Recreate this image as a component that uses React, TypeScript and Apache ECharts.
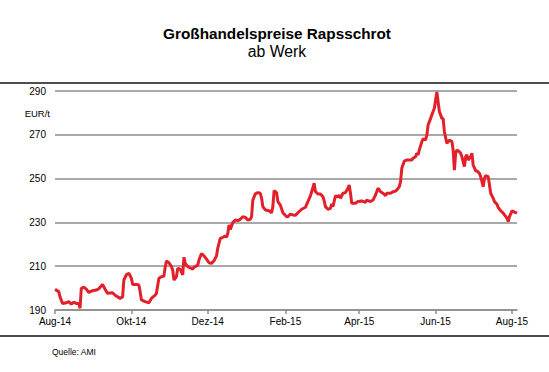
import React, { useEffect, useRef } from "react";
import * as echarts from "echarts";

const dates: string[] = [
  "2014-08-01","2014-08-04","2014-08-05","2014-08-07","2014-08-10","2014-08-12","2014-08-14","2014-08-16","2014-08-18","2014-08-20",
  "2014-08-21","2014-08-22","2014-08-24","2014-08-26","2014-08-28","2014-08-31","2014-09-03","2014-09-05","2014-09-08","2014-09-10",
  "2014-09-12","2014-09-16","2014-09-18","2014-09-22","2014-09-24","2014-09-25","2014-09-27","2014-09-29","2014-10-01","2014-10-02",
  "2014-10-05","2014-10-07","2014-10-08","2014-10-09","2014-10-12","2014-10-15","2014-10-17","2014-10-20","2014-10-21","2014-10-23",
  "2014-10-25","2014-10-27","2014-10-28","2014-10-29","2014-10-31","2014-11-02","2014-11-03","2014-11-04","2014-11-06","2014-11-07",
  "2014-11-09","2014-11-11","2014-11-12","2014-11-13","2014-11-15","2014-11-16","2014-11-19","2014-11-20","2014-11-23","2014-11-24",
  "2014-11-26","2014-11-28","2014-11-30","2014-12-02","2014-12-04","2014-12-06","2014-12-08","2014-12-09","2014-12-11","2014-12-13",
  "2014-12-15","2014-12-16","2014-12-17","2014-12-18","2014-12-19","2014-12-21","2014-12-23","2014-12-25","2014-12-27","2014-12-29",
  "2014-12-31","2015-01-02","2015-01-04","2015-01-05","2015-01-06","2015-01-08","2015-01-10","2015-01-12","2015-01-13","2015-01-14",
  "2015-01-16","2015-01-19","2015-01-21","2015-01-22","2015-01-23","2015-01-25","2015-01-26","2015-01-28","2015-01-30","2015-02-02",
  "2015-02-03","2015-02-05","2015-02-07","2015-02-09","2015-02-11","2015-02-14","2015-02-17","2015-02-19","2015-02-21","2015-02-22",
  "2015-02-24","2015-02-25","2015-02-27","2015-03-01","2015-03-03","2015-03-04","2015-03-05","2015-03-07","2015-03-09","2015-03-10",
  "2015-03-11","2015-03-13","2015-03-15","2015-03-16","2015-03-17","2015-03-19","2015-03-21","2015-03-23","2015-03-24","2015-03-25",
  "2015-03-26","2015-03-29","2015-03-31","2015-04-03","2015-04-06","2015-04-07","2015-04-10","2015-04-12","2015-04-14","2015-04-16",
  "2015-04-18","2015-04-20","2015-04-22","2015-04-23","2015-04-26","2015-04-28","2015-04-30","2015-05-01","2015-05-03","2015-05-04",
  "2015-05-05","2015-05-07","2015-05-09","2015-05-11","2015-05-13","2015-05-14","2015-05-16","2015-05-17","2015-05-18","2015-05-19",
  "2015-05-21","2015-05-22","2015-05-24","2015-05-25","2015-05-26","2015-05-28","2015-05-30","2015-05-31","2015-06-01","2015-06-02",
  "2015-06-03","2015-06-04","2015-06-06","2015-06-07","2015-06-08","2015-06-10","2015-06-12","2015-06-14","2015-06-15","2015-06-16",
  "2015-06-17","2015-06-18","2015-06-20","2015-06-21","2015-06-22","2015-06-24","2015-06-25","2015-06-26","2015-06-27","2015-06-29",
  "2015-06-30","2015-07-01","2015-07-03","2015-07-04","2015-07-06","2015-07-07","2015-07-09","2015-07-10","2015-07-11","2015-07-13",
  "2015-07-14","2015-07-15","2015-07-17","2015-07-18","2015-07-20","2015-07-21","2015-07-23","2015-07-25","2015-07-26","2015-07-28",
  "2015-07-29","2015-07-30","2015-08-01","2015-08-03","2015-08-05"
];

const prices: number[] = [
  199.4,198.4,196.0,193.0,193.3,193.8,192.7,193.5,193.0,193.0,
  190.8,199.9,200.4,199.5,198.0,198.8,199.1,199.7,201.7,199.5,
  197.6,197.9,196.7,195.3,196.0,203.7,206.1,206.8,204.5,201.7,
  201.7,201.4,198.4,194.6,193.8,193.3,195.3,196.8,197.6,204.5,
  205.2,205.5,209.5,212.4,211.6,209.8,208.3,203.7,205.2,209.0,
  208.6,206.0,214.1,211.3,209.8,209.5,208.6,209.5,210.5,212.8,
  215.8,214.7,213.2,211.6,211.3,212.5,214.7,218.2,222.7,223.2,
  223.8,223.2,225.0,228.8,226.8,229.9,231.1,230.8,231.4,232.6,
  232.3,231.1,231.4,232.6,240.2,243.0,243.6,243.3,241.0,237.2,
  235.7,235.3,234.4,237.2,244.5,243.6,239.5,237.9,234.4,232.6,
  232.6,233.8,233.4,233.2,234.4,236.0,236.9,239.5,242.1,244.0,
  247.9,244.0,243.0,243.0,241.7,239.9,237.2,236.0,236.4,238.4,
  237.2,242.1,241.7,242.5,241.0,243.3,243.6,245.6,247.1,243.3,
  238.7,238.7,239.5,239.8,239.2,240.2,239.5,240.2,242.5,245.6,
  244.0,243.3,242.2,243.3,243.3,244.0,244.3,244.8,246.3,248.6,
  254.7,258.0,258.5,258.5,258.5,259.3,260.0,261.6,260.8,263.1,
  266.9,268.1,267.7,269.9,274.5,277.5,280.6,282.1,285.9,289.6,
  285.0,280.6,277.5,277.5,271.4,266.1,267.6,266.9,263.1,253.9,
  261.6,263.1,262.3,261.6,260.0,255.5,260.0,260.8,258.5,260.0,
  261.6,256.2,253.5,253.5,252.4,250.9,246.3,250.1,251.3,250.9,
  247.1,243.3,241.0,239.5,238.3,236.8,235.3,234.2,233.4,231.9,
  230.4,232.6,235.3,234.7,234.2
];

const tickDates: string[] = ["2014-08-01","2014-10-01","2014-12-01","2015-02-01","2015-04-01","2015-06-01","2015-08-01"];
const tickLabels: string[] = ["Aug-14","Okt-14","Dez-14","Feb-15","Apr-15","Jun-15","Aug-15"];
const axisStart = "2014-08-01";
const axisEnd = "2015-08-05";

const yMin = 190;
const yMax = 290;
const yStep = 20;

const FONT = "'Liberation Sans', Arial, sans-serif";

function dayIndex(s: string): number {
  const [y, m, d] = s.split("-").map(Number);
  const [y0, m0, d0] = axisStart.split("-").map(Number);
  return Math.round((Date.UTC(y, m - 1, d) - Date.UTC(y0, m0 - 1, d0)) / 86400000);
}

export default function App() {
  const ref = useRef<HTMLDivElement>(null);
  useEffect(() => {
    if (!ref.current) return;
    const chart = echarts.init(ref.current, null, { renderer: "svg" });
    const tickDays = tickDates.map(dayIndex);
    const data = dates.map((d, i) => [dayIndex(d), prices[i]]);
    chart.setOption({
      animation: false,
      backgroundColor: "#ffffff",
      grid: { left: 55, right: 32, top: 91, bottom: 62, containLabel: false },
      xAxis: {
        type: "value",
        min: 0,
        max: dayIndex(axisEnd),
        axisLine: { show: true, lineStyle: { color: "#8c8c8c", width: 1.5 } },
        axisTick: { show: true, length: 4, customValues: tickDays, lineStyle: { color: "#8c8c8c", width: 1.5 } },
        axisLabel: {
          customValues: tickDays,
          margin: 6,
          fontSize: 10,
          color: "#000",
          fontFamily: FONT,
          formatter: (v: number) => {
            const i = tickDays.indexOf(Math.round(v));
            return i >= 0 ? tickLabels[i] : "";
          },
        },
        splitLine: { show: false },
      },
      yAxis: {
        type: "value",
        min: yMin,
        max: yMax,
        interval: yStep,
        axisLine: { show: false },
        axisTick: { show: false },
        axisLabel: { margin: 9, fontSize: 10, color: "#000", fontFamily: FONT },
        splitLine: { show: true, lineStyle: { color: "#8c8c8c", width: 1.5 } },
      },
      series: [
        {
          type: "line",
          data,
          showSymbol: false,
          symbol: "none",
          lineStyle: { color: "#e3202a", width: 3 },
          z: 5,
        },
      ],
      graphic: [
        {
          type: "text",
          x: 277,
          y: 33,
          style: {
            text: "Großhandelspreise Rapsschrot",
            font: `bold 15.3px ${FONT}`,
            fill: "#000",
            textAlign: "center",
            textVerticalAlign: "middle",
          },
        },
        {
          type: "text",
          x: 277,
          y: 51,
          style: {
            text: "ab Werk",
            font: `15.8px ${FONT}`,
            fill: "#000",
            textAlign: "center",
            textVerticalAlign: "middle",
          },
        },
        { type: "rect", shape: { x: 0, y: 82, width: 549, height: 2 }, style: { fill: "#4d4d4d" } },
        { type: "rect", shape: { x: 0, y: 335, width: 549, height: 2 }, style: { fill: "#4d4d4d" } },
        {
          type: "text",
          x: 50,
          y: 113,
          style: {
            text: "EUR/t",
            font: `9.5px ${FONT}`,
            fill: "#000",
            textAlign: "right",
            textVerticalAlign: "middle",
          },
        },
        {
          type: "text",
          x: 52,
          y: 352,
          style: {
            text: "Quelle: AMI",
            font: `8.5px ${FONT}`,
            fill: "#000",
            textAlign: "left",
            textVerticalAlign: "middle",
          },
        },
      ],
    });
    return () => chart.dispose();
  }, []);
  return (
    <div
      ref={ref}
      style={{ position: "fixed", left: 0, top: 0, width: 549, height: 372, background: "#fff" }}
    />
  );
}
